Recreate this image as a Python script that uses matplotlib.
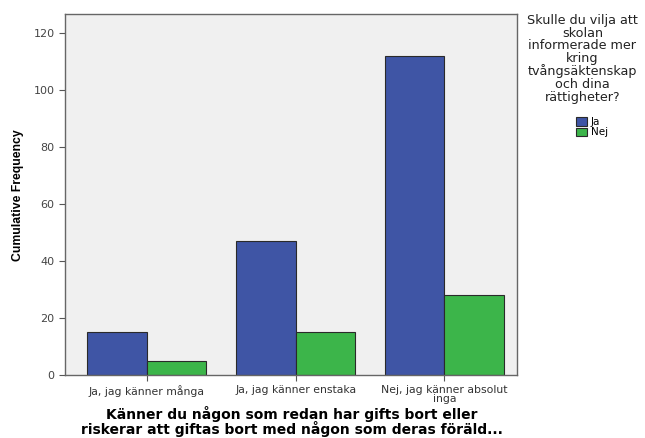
import numpy as np
import matplotlib.pyplot as plt

categories = ["Ja, jag känner många", "Ja, jag känner enstaka", "Nej, jag känner absolut\ninga"]
ja_values = [15, 47, 112]
nej_values = [5, 15, 28]
series_labels = ["Ja", "Nej"]

fig = plt.figure(figsize=(6.45, 4.38), dpi=100)
ax = fig.add_axes([0.101, 0.144, 0.701, 0.824])
ax.set_facecolor("#f0f0f0")

x = np.arange(len(categories))
w = 0.4
ax.bar(x - w / 2, ja_values, w, color="#3f55a5", edgecolor="#2a2a2a", linewidth=0.8, label=series_labels[0])
ax.bar(x + w / 2, nej_values, w, color="#3cb54a", edgecolor="#2a2a2a", linewidth=0.8, label=series_labels[1])

ax.set_xlim(-0.55, 2.49)
ax.set_ylim(0, 126.7)
ax.set_yticks([0, 20, 40, 60, 80, 100, 120])
ax.set_xticks(x)
ax.set_xticklabels(categories, fontsize=7.8, color="#333333", linespacing=0.9)
ax.tick_params(axis="y", labelsize=8, labelcolor="#444444", color="#555555", length=4)
ax.tick_params(axis="x", color="#555555", length=4, pad=3)
for s in ax.spines.values():
    s.set_color("#666666")
    s.set_linewidth(1.0)

# y-label placed by hand, narrow bold like the original
fig.text(0.028, 0.555, "Cumulative Frequency", rotation=90, ha="center", va="center",
         fontsize=8.8, fontweight="bold", family="Liberation Sans")
fig.text(0.452, 0.038, "Känner du någon som redan har gifts bort eller\nriskerar att giftas bort med någon som deras föräld...",
         ha="center", va="center", fontsize=10, fontweight="bold", linespacing=0.95)

fig.text(0.903, 0.968, "Skulle du vilja att\nskolan\ninformerade mer\nkring\ntvångsäktenskap\noch dina\nrättigheter?",
         ha="center", va="top", fontsize=9.2, color="#222222", linespacing=0.96)
leg = fig.legend(loc="upper left", bbox_to_anchor=(0.885, 0.745), frameon=False, fontsize=7.5,
                 handlelength=1.1, handleheight=0.9, handletextpad=0.3, labelspacing=0.05, borderpad=0)

fig.savefig("out.png", dpi=100)
